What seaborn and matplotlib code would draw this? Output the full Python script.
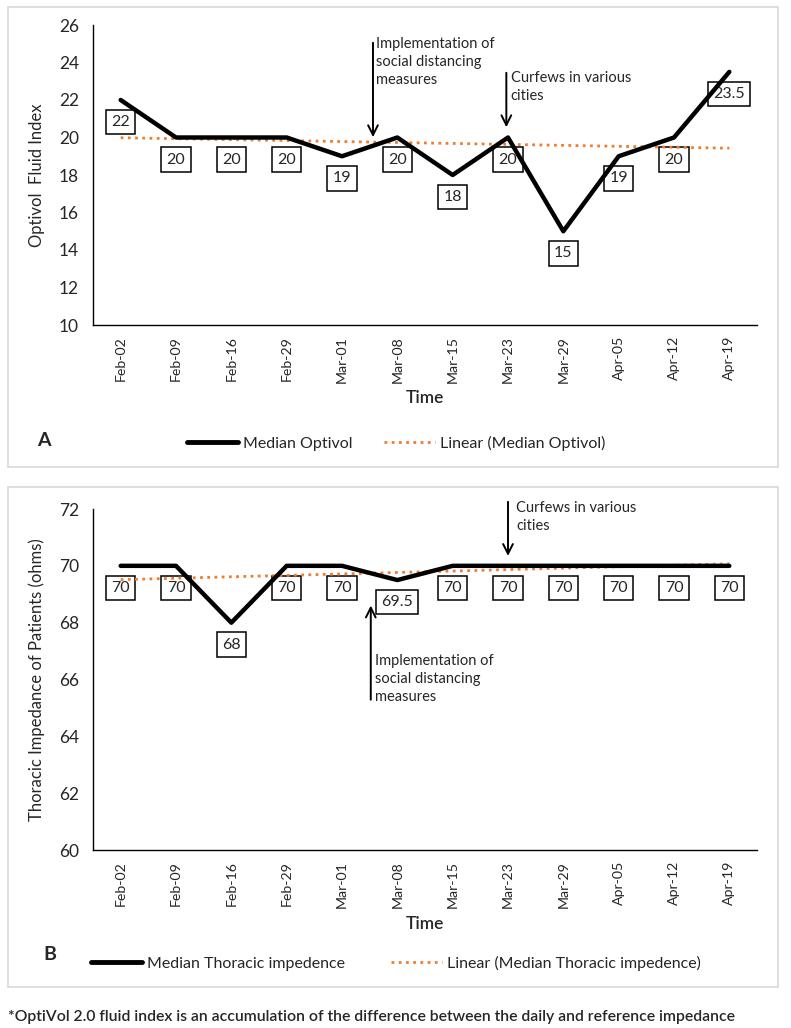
import numpy as np
import pandas as pd
import matplotlib
matplotlib.use("Agg")
import matplotlib.pyplot as plt
from matplotlib.lines import Line2D
from matplotlib.patches import Rectangle
import seaborn as sns

# data
dates = ["Feb-02", "Feb-09", "Feb-16", "Feb-29", "Mar-01", "Mar-08",
         "Mar-15", "Mar-23", "Mar-29", "Apr-05", "Apr-12", "Apr-19"]
optivol = [22, 20, 20, 20, 19, 20, 18, 20, 15, 19, 20, 23.5]
thoracic = [70, 70, 68, 70, 70, 69.5, 70, 70, 70, 70, 70, 70]
optivol_labels = ["22", "20", "20", "20", "19", "20", "18", "20", "15", "19", "20", "23.5"]
thoracic_labels = ["70", "70", "68", "70", "70", "69.5", "70", "70", "70", "70", "70", "70"]

sns.set_style("white")
plt.rcParams["font.family"] = ["Lato", "DejaVu Sans"]

ORANGE = "#ED7D31"
W, H = 791, 1028
fig = plt.figure(figsize=(W / 100, H / 100), dpi=100)


def fx(px):
    return px / W


def fy(py):
    return 1 - py / H


def panel(top, bottom, values, labels, ylim, yticks, ylabel):
    ax = fig.add_axes([fx(93), fy(bottom), fx(757) - fx(93), fy(top) - fy(bottom)])
    x = np.arange(len(values))
    df = pd.DataFrame({"x": x, "y": values})
    slope, icpt = np.polyfit(x, values, 1)
    df["trend"] = icpt + slope * x
    sns.lineplot(data=df, x="x", y="trend", ax=ax, color=ORANGE, lw=2,
                 linestyle=(0, (1, 1.6)), zorder=3)
    sns.lineplot(data=df, x="x", y="y", ax=ax, color="black", lw=3.2, zorder=4)
    for xi, yi, lab in zip(x, values, labels):
        ax.annotate(lab, (xi, yi), xytext=(0, -22), textcoords="offset pixels",
                    ha="center", va="center", fontsize=11.5, zorder=2,
                    bbox=dict(boxstyle="square,pad=0.33", fc="white", ec="black", lw=1.1))
    ax.set_xlim(-0.5, len(values) - 0.5)
    ax.set_ylim(*ylim)
    ax.set_yticks(yticks)
    ax.set_xticks(x)
    ax.set_xticklabels(dates, rotation=90, fontsize=10.2)
    ax.tick_params(axis="y", labelsize=12.5, direction="inout", length=8, width=1, pad=6)
    ax.tick_params(axis="x", direction="inout", length=8, width=1, pad=4)
    ax.set_xticks([len(values) - 0.5], minor=True)
    ax.tick_params(axis="x", which="minor", direction="inout", length=8, width=1)
    for s in ["top", "right"]:
        ax.spines[s].set_visible(False)
    for s in ["left", "bottom"]:
        ax.spines[s].set_color("black")
        ax.spines[s].set_linewidth(1)
    ax.set_ylabel(ylabel, fontsize=12)
    ax.yaxis.set_label_coords(-0.072, 0.5)
    ax.set_xlabel("Time", fontsize=12.5, fontweight="semibold")
    return ax


# panel frames
fig.patches.append(Rectangle((fx(8), fy(467)), fx(770), 460 / H, transform=fig.transFigure,
                             fill=False, ec="#d9d9d9", lw=1.2))
fig.patches.append(Rectangle((fx(8), fy(987)), fx(770), 500 / H, transform=fig.transFigure,
                             fill=False, ec="#d9d9d9", lw=1.2))

axA = panel(25, 325, optivol, optivol_labels, (10, 26), range(10, 27, 2), "Optivol  Fluid Index")
axA.xaxis.set_label_coords(0.5, -(398 - 325) / 300)
axB = panel(509, 850, thoracic, thoracic_labels, (60, 72), range(60, 73, 2),
            "Thoracic Impedance of Patients (ohms)")
axB.xaxis.set_label_coords(0.5, -(924 - 850) / 341)
axA.xaxis.label.set_va("center")
axB.xaxis.label.set_va("center")

arrow = dict(arrowstyle="->,head_length=0.7,head_width=0.35", color="black", lw=1.4)
note_kw = dict(ha="left", va="top", fontsize=10.5, linespacing=1.35)

# panel A annotations
axA.annotate("", xy=(4.56, 19.87), xytext=(4.56, 25.2), arrowprops=arrow)
axA.text(4.62, 25.35, "Implementation of\nsocial distancing\nmeasures", **note_kw)
axA.annotate("", xy=(6.97, 20.4), xytext=(6.97, 23.6), arrowprops=arrow)
axA.text(7.05, 23.55, "Curfews in various\ncities", **note_kw)

# panel B annotations
axB.annotate("", xy=(4.52, 68.7), xytext=(4.52, 65.19), arrowprops=arrow)
axB.text(4.6, 66.9, "Implementation of\nsocial distancing\nmeasures", **note_kw)
axB.annotate("", xy=(7.0, 70.25), xytext=(7.0, 72.35), arrowprops=arrow)
axB.text(7.15, 72.27, "Curfews in various\ncities", **note_kw)

# legends
legA = [Line2D([], [], color="black", lw=3.5),
        Line2D([], [], color=ORANGE, lw=2, linestyle=(0, (1, 1.6)))]
fig.legend(legA, ["Median Optivol", "Linear (Median Optivol)"], loc="center",
           bbox_to_anchor=(fx(396), fy(443)), ncol=2, frameon=False, fontsize=11.5,
           handlelength=3.2, handletextpad=0.3, columnspacing=2.0)
fig.legend(legA, ["Median Thoracic impedence", "Linear (Median Thoracic impedence)"],
           loc="center", bbox_to_anchor=(fx(396), fy(963)), ncol=2, frameon=False,
           fontsize=11.5, handlelength=3.2, handletextpad=0.3, columnspacing=2.9)

fig.text(fx(44), fy(441), "A", fontsize=14, fontweight="bold", ha="center", va="center")
fig.text(fx(50), fy(955), "B", fontsize=14, fontweight="bold", ha="center", va="center")
fig.text(fx(8), fy(1017), "*OptiVol 2.0 fluid index is an accumulation of the difference "
         "between the daily and reference impedance", fontsize=11.3, fontweight="semibold",
         ha="left", va="center")

fig.savefig("out.png", dpi=100, facecolor="white")
